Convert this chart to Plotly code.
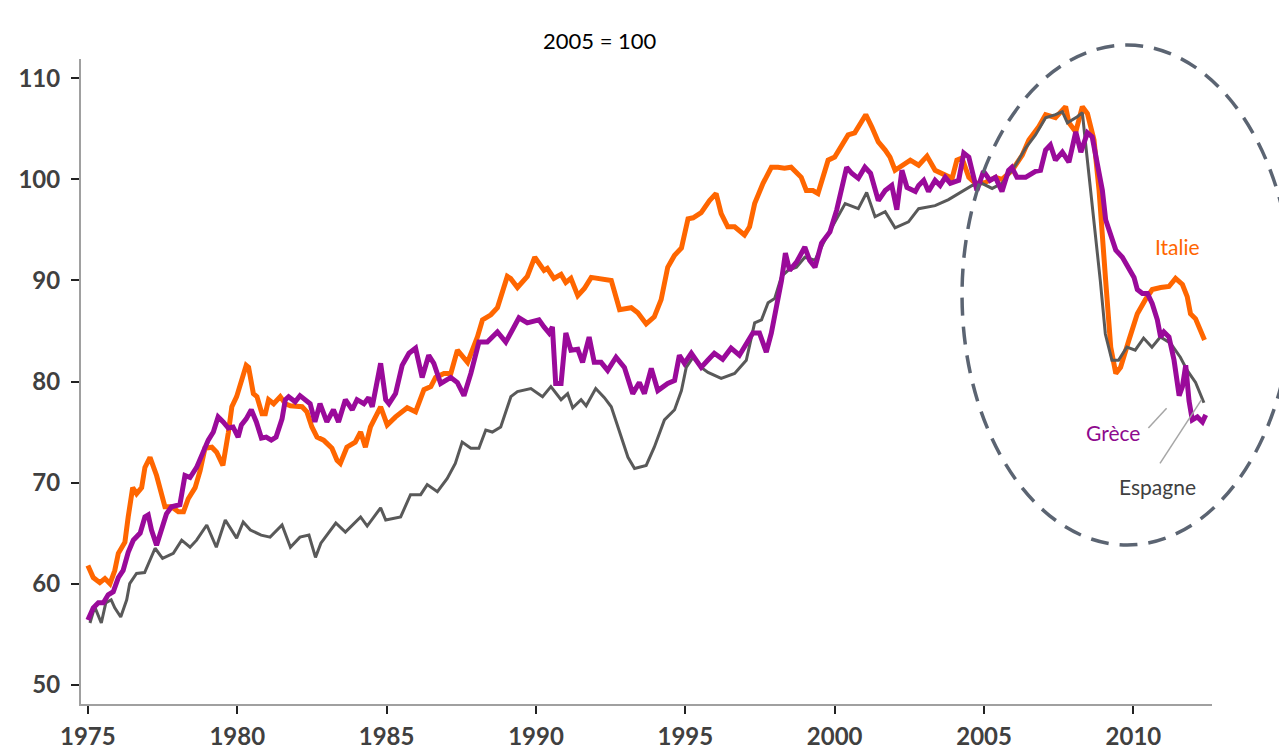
import plotly.graph_objects as go

# ---------------- data ----------------
years_es = [1975.07,1975.23,1975.45,1975.6,1975.78,1975.9,1976.1,1976.3,1976.4,1976.63,1976.9,1977.08,1977.25,1977.5,1977.86,
            1978.14,1978.42,1978.64,1978.98,1979.3,1979.6,1979.98,1980.2,1980.44,1980.8,1981.1,1981.5,1981.78,1982.1,1982.4,
            1982.62,1982.8,1983.0,1983.3,1983.62,1984.13,1984.35,1984.8,1984.97,1985.47,1985.8,1986.14,1986.36,1986.7,1987.03,
            1987.3,1987.53,1987.82,1988.09,1988.32,1988.54,1988.82,1989.16,1989.38,1989.83,1990.22,1990.5,1990.84,1991.06,1991.23,
            1991.51,1991.68,1992.0,1992.29,1992.52,1992.85,1993.08,1993.3,1993.69,1993.96,1994.3,1994.64,1994.87,1995.03,1995.26,
            1995.53,1995.76,1996.2,1996.65,1997.04,1997.32,1997.55,1997.77,1997.99,1998.22,1998.44,1998.72,1999.0,1999.34,1999.67,
            2000.0,2000.35,2000.79,2001.07,2001.35,2001.69,2002.02,2002.47,2002.81,2003.36,2003.81,2004.2,2004.6,2004.93,2005.27,
            2005.6,2006.05,2006.39,2006.72,2007.06,2007.39,2007.62,2007.79,2008.12,2008.29,2008.4,2008.62,2008.89,2009.06,2009.28,
            2009.5,2009.78,2010.06,2010.34,2010.62,2010.9,2011.24,2011.57,2011.8,2012.08,2012.36]
espagne = [56.1,57.7,56.1,58.1,58.4,57.6,56.7,58.4,60.0,61.0,61.1,62.3,63.5,62.5,63.0,
           64.3,63.6,64.3,65.8,63.6,66.3,64.5,66.1,65.3,64.8,64.6,65.8,63.6,64.6,64.8,
           62.6,64.0,64.8,66.0,65.1,66.6,65.7,67.5,66.3,66.6,68.8,68.8,69.8,69.1,70.4,
           71.9,74.0,73.4,73.4,75.2,75.0,75.5,78.5,79.0,79.3,78.5,79.5,78.2,78.8,77.4,
           78.2,77.6,79.3,78.4,77.5,74.5,72.5,71.4,71.7,73.5,76.2,77.2,79.1,81.4,82.4,
           81.4,80.9,80.3,80.8,82.1,85.8,86.1,87.8,88.2,90.4,91.0,91.3,92.3,92.0,94.0,
           95.7,97.6,97.1,98.7,96.3,96.8,95.2,95.8,97.1,97.4,98.0,98.7,99.4,99.6,99.1,
           99.6,101.4,103.1,104.4,106.1,106.4,106.7,105.6,106.2,106.6,103.5,97.6,90.0,84.7,82.1,
           82.1,83.4,83.1,84.3,83.4,84.4,83.8,82.4,81.1,79.9,77.9]

years_it = [1975.0,1975.18,1975.4,1975.57,1975.74,1975.9,1976.02,1976.24,1976.35,1976.5,1976.63,1976.8,1976.91,1977.08,1977.3,
            1977.47,1977.58,1977.8,1978.03,1978.2,1978.36,1978.59,1978.76,1978.92,1979.15,1979.31,1979.52,1979.7,1979.82,1979.98,
            1980.15,1980.3,1980.38,1980.54,1980.66,1980.83,1980.94,1981.05,1981.22,1981.44,1981.61,1981.78,1982.17,1982.33,1982.5,
            1982.67,1982.89,1983.17,1983.34,1983.45,1983.67,1983.95,1984.13,1984.29,1984.46,1984.8,1985.02,1985.3,1985.69,1985.97,
            1986.25,1986.48,1986.64,1986.92,1987.15,1987.37,1987.71,1988.04,1988.21,1988.49,1988.71,1989.04,1989.15,1989.38,1989.71,
            1989.96,1990.27,1990.38,1990.6,1990.84,1991.0,1991.17,1991.4,1991.62,1991.85,1992.18,1992.52,1992.8,1993.19,1993.41,
            1993.69,1993.96,1994.19,1994.41,1994.64,1994.87,1995.09,1995.26,1995.53,1995.81,1996.03,1996.2,1996.42,1996.65,1996.98,
            1997.15,1997.32,1997.6,1997.88,1998.1,1998.32,1998.54,1998.72,1998.88,1999.05,1999.27,1999.44,1999.78,2000.0,2000.23,
            2000.45,2000.67,2000.9,2001.04,2001.24,2001.46,2001.69,2001.85,2002.02,2002.25,2002.53,2002.81,2003.09,2003.36,2003.7,
            2003.93,2004.09,2004.26,2004.49,2004.71,2005.04,2005.38,2005.6,2005.94,2006.28,2006.5,2006.83,2007.06,2007.39,2007.73,
            2007.84,2008.07,2008.29,2008.46,2008.68,2008.85,2009.07,2009.24,2009.41,2009.57,2009.85,2010.13,2010.4,2010.63,2010.91,
            2011.19,2011.41,2011.64,2011.8,2011.91,2012.08,2012.25,2012.38]
italie = [61.8,60.6,60.1,60.5,60.0,61.3,63.0,64.1,66.6,69.5,68.9,69.5,71.5,72.5,70.7,
          68.9,67.6,67.6,67.1,67.1,68.4,69.5,71.2,73.4,73.5,73.0,71.7,74.9,77.5,78.5,
          80.2,81.6,81.4,78.8,78.5,76.8,76.8,78.2,77.8,78.5,77.8,77.6,77.5,77.0,75.5,
          74.5,74.2,73.4,72.2,71.9,73.5,74.0,75.0,73.5,75.5,77.5,75.7,76.5,77.4,77.0,
          79.2,79.5,80.4,80.8,80.8,83.1,81.9,84.4,86.1,86.6,87.3,90.4,90.2,89.3,90.4,
          92.3,91.0,91.2,90.2,90.6,89.8,90.2,88.5,89.2,90.3,90.1,90.0,87.1,87.3,86.8,
          85.7,86.4,88.1,91.3,92.5,93.2,96.1,96.2,96.7,97.9,98.6,96.6,95.3,95.3,94.5,
          95.3,97.6,99.6,101.2,101.2,101.1,101.2,100.6,100.2,98.9,98.9,98.6,101.9,102.2,103.4,
          104.4,104.6,105.6,106.4,105.2,103.7,102.9,102.2,100.9,101.4,101.9,101.4,102.3,100.9,100.4,
          100.1,101.9,102.1,100.2,99.6,99.7,100.2,100.0,100.9,102.4,103.9,105.2,106.4,106.1,107.2,
          105.6,104.7,107.2,106.5,103.9,98.9,90.0,83.4,80.8,81.4,84.1,86.7,88.1,89.1,89.3,
          89.4,90.2,89.6,88.4,86.7,86.2,85.0,84.1]

years_gr = [1975.0,1975.18,1975.35,1975.52,1975.68,1975.85,1976.02,1976.18,1976.35,1976.52,1976.75,1976.91,1977.02,1977.13,1977.3,
            1977.47,1977.63,1977.8,1978.08,1978.25,1978.42,1978.64,1978.86,1979.03,1979.2,1979.36,1979.53,1979.7,1979.86,1980.03,
            1980.14,1980.3,1980.47,1980.64,1980.81,1980.97,1981.14,1981.3,1981.5,1981.61,1981.72,1981.94,1982.1,1982.27,1982.44,
            1982.6,1982.77,1983.0,1983.22,1983.39,1983.62,1983.85,1984.01,1984.24,1984.4,1984.52,1984.8,1984.97,1985.08,1985.3,
            1985.52,1985.75,1985.97,1986.19,1986.41,1986.58,1986.81,1987.15,1987.37,1987.59,1987.82,1988.09,1988.37,1988.71,1988.99,
            1989.21,1989.43,1989.71,1990.1,1990.27,1990.44,1990.55,1990.66,1990.84,1991.0,1991.17,1991.4,1991.56,1991.78,1991.95,
            1992.18,1992.4,1992.68,1992.96,1993.24,1993.46,1993.63,1993.86,1994.08,1994.41,1994.64,1994.8,1994.97,1995.2,1995.53,
            1995.75,1995.97,1996.25,1996.53,1996.81,1997.04,1997.26,1997.48,1997.71,1997.88,1998.04,1998.22,1998.35,1998.49,1998.72,
            1999.0,1999.16,1999.34,1999.56,1999.84,2000.07,2000.23,2000.4,2000.57,2000.79,2001.01,2001.2,2001.46,2001.69,2001.91,
            2002.08,2002.25,2002.42,2002.7,2002.81,2002.98,2003.14,2003.36,2003.53,2003.7,2003.87,2004.15,2004.32,2004.49,2004.65,
            2004.76,2004.98,2005.2,2005.38,2005.6,2005.82,2005.93,2006.1,2006.39,2006.72,2006.89,2007.06,2007.22,2007.39,2007.62,
            2007.84,2008.07,2008.24,2008.46,2008.62,2008.79,2008.96,2009.07,2009.24,2009.41,2009.63,2009.85,2010.02,2010.13,2010.3,
            2010.47,2010.63,2010.8,2010.91,2011.02,2011.19,2011.36,2011.53,2011.64,2011.75,2011.86,2011.97,2012.14,2012.31,2012.42]
grece = [56.4,57.6,58.1,58.1,58.9,59.2,60.6,61.3,63.1,64.3,65.0,66.6,66.8,65.3,63.8,
         65.3,66.9,67.6,67.8,70.7,70.5,71.5,73.2,74.2,75.0,76.5,76.0,75.4,75.5,74.5,
         75.7,76.3,77.2,76.0,74.4,74.5,74.2,74.5,76.3,78.2,78.5,78.0,78.6,78.2,77.8,
         76.0,77.8,76.0,77.2,76.0,78.2,77.2,78.2,77.8,78.4,77.5,81.8,78.2,77.8,78.8,
         81.6,82.8,83.3,80.4,82.6,81.8,79.8,80.4,79.9,78.6,80.8,83.9,83.9,84.9,83.9,
         85.1,86.3,85.8,86.1,85.4,84.8,85.4,79.8,79.8,84.8,83.1,83.2,81.9,84.4,81.9,
         81.9,81.1,82.4,81.4,78.8,79.9,78.8,81.3,79.1,79.8,80.1,82.6,81.8,82.8,81.4,
         82.1,82.8,82.2,83.3,82.6,83.8,84.8,84.8,82.9,84.8,87.1,90.0,92.7,91.0,91.8,
         93.3,92.0,91.3,93.7,94.8,97.0,98.9,101.2,100.6,100.1,101.2,100.6,97.9,98.9,99.4,
         97.0,100.9,99.2,98.8,99.4,99.9,98.8,99.9,99.4,100.2,99.6,99.9,102.6,102.2,99.9,
         98.9,100.8,99.9,100.2,98.8,100.9,101.2,100.2,100.2,100.8,100.9,102.9,103.4,101.9,102.7,
         101.7,104.7,102.7,104.6,104.2,101.7,98.9,96.0,94.6,93.0,92.3,91.3,90.3,89.1,88.7,
         88.7,87.7,86.1,84.4,84.9,84.4,82.1,78.6,79.5,81.6,78.1,76.2,76.5,76.0,76.7]

x_ticks = [1975, 1980, 1985, 1990, 1995, 2000, 2005, 2010]
y_ticks = [50, 60, 70, 80, 90, 100, 110]
title_text = "2005 = 100"

# ---------------- figure ----------------
fig = go.Figure()
fig.add_trace(go.Scatter(x=years_it, y=italie, mode="lines", name="Italie",
                         line=dict(color="#FF6600", width=5)))
fig.add_trace(go.Scatter(x=years_es, y=espagne, mode="lines", name="Espagne",
                         line=dict(color="#595959", width=3)))
fig.add_trace(go.Scatter(x=years_gr, y=grece, mode="lines", name="Grèce",
                         line=dict(color="#9A0A9A", width=5)))

tickfont = dict(family="Lato", size=24, color="#404040", weight="bold")

fig.update_layout(
    width=1279, height=749,
    margin=dict(l=81, r=67, t=59, b=45, autoexpand=False),
    paper_bgcolor="white", plot_bgcolor="white",
    showlegend=False,
    xaxis=dict(range=[1974.77, 2012.63], tickvals=x_ticks, ticktext=[str(v) for v in x_ticks],
               showgrid=False, zeroline=False, showline=True, linecolor="#A0A0A0", linewidth=2,
               ticks="outside", ticklen=8, tickwidth=1.5, tickcolor="#222222",
               tickfont=tickfont, ticklabelstandoff=2),
    yaxis=dict(range=[48.09, 111.91], tickvals=y_ticks, ticktext=[str(v) for v in y_ticks],
               showgrid=False, zeroline=False, showline=True, linecolor="#A0A0A0", linewidth=2,
               ticks="outside", ticklen=8, tickwidth=1.5, tickcolor="#222222",
               tickfont=tickfont, ticklabelstandoff=6),
)

# dashed ellipse around the crisis period
fig.add_shape(type="circle", xref="paper", yref="paper",
              x0=0.779, x1=1.071, y0=0.2465, y1=1.0217,
              line=dict(color="#5B6472", width=3.5, dash="18px,11px"))

# leader lines
fig.add_shape(type="line", xref="x", yref="y", x0=2010.50, y0=75.4, x1=2011.11, y1=77.36,
              line=dict(color="#A6A6A6", width=1.5))
fig.add_shape(type="line", xref="x", yref="y", x0=2010.89, y0=71.9, x1=2012.28, y1=78.2,
              line=dict(color="#A6A6A6", width=1.5))

labfont = dict(family="Lato", size=21)
fig.add_annotation(x=2011.49, y=93.4, xref="x", yref="y", text="Italie", showarrow=False,
                   font=dict(labfont, color="#FF6600"))
fig.add_annotation(x=2009.31, y=75.0, xref="x", yref="y", text="Grèce", showarrow=False,
                   font=dict(labfont, color="#8E0A8E"))
fig.add_annotation(x=2010.82, y=69.6, xref="x", yref="y", text="Espagne", showarrow=False,
                   font=dict(labfont, color="#404040"))

fig.add_annotation(x=0.459, y=1.053, xref="paper", yref="paper", text=title_text, showarrow=False,
                   font=dict(family="Lato", size=22, color="#000000"))

fig.write_html("out.html",
               config={"displayModeBar": False},
               post_script="document.body.style.margin='0';document.body.style.overflow='hidden';")
